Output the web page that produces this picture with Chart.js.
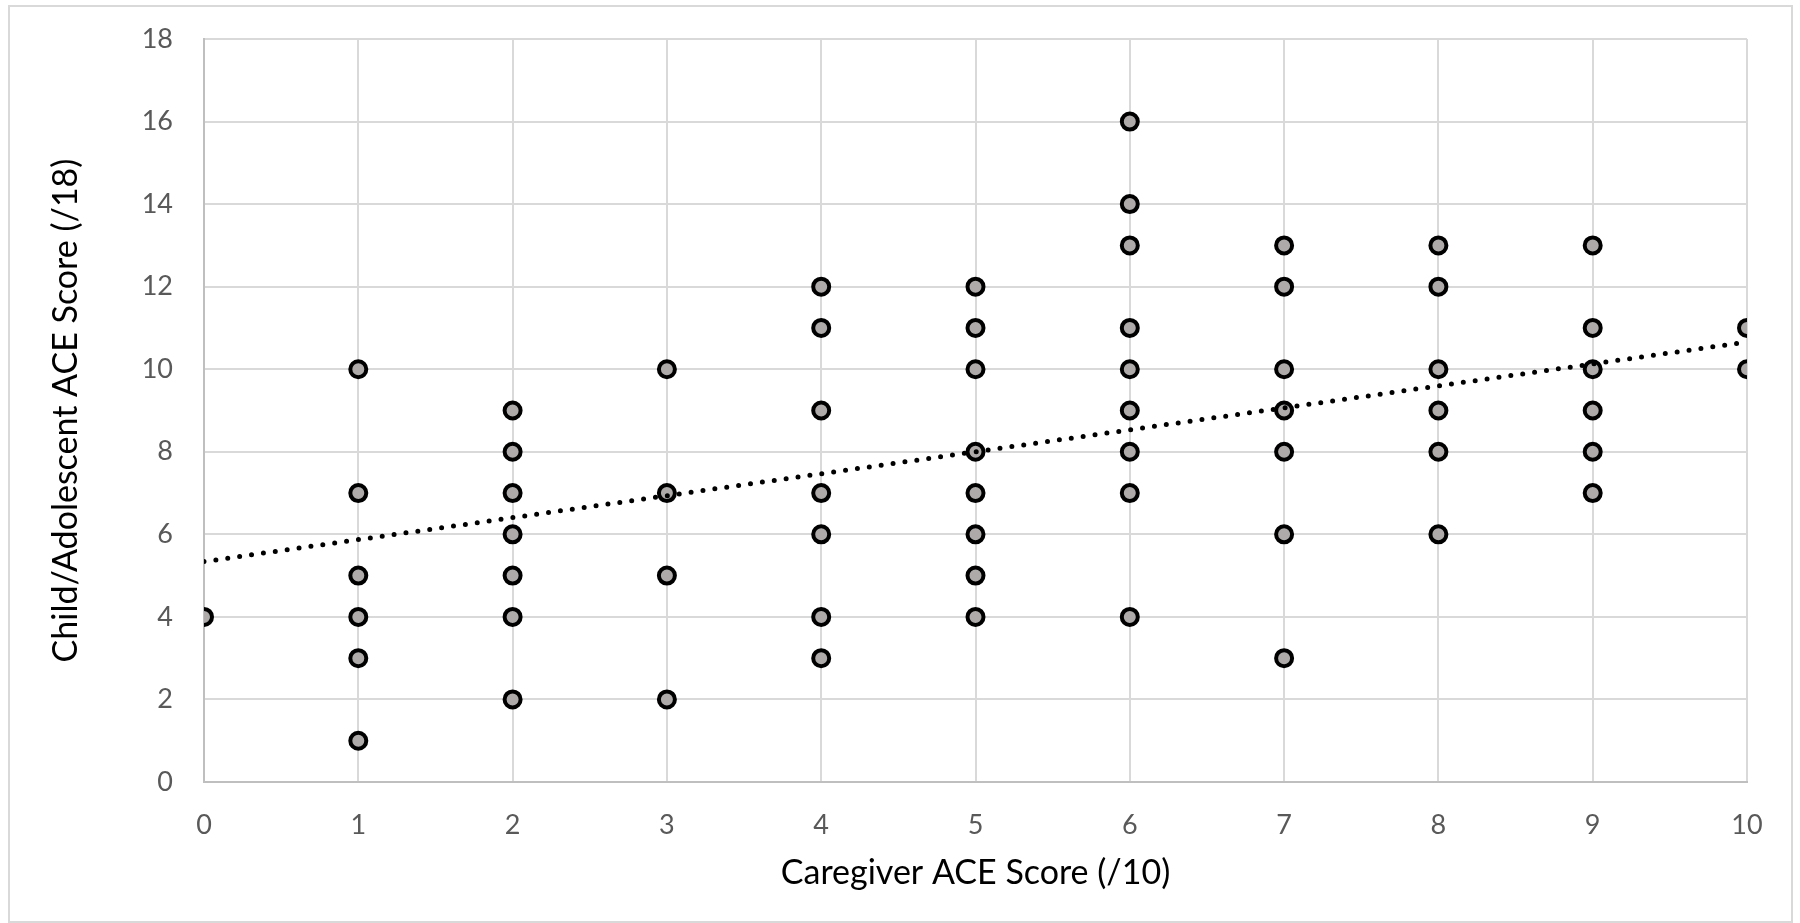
<!DOCTYPE html>
<html>
<head>
<meta charset="utf-8">
<script src="https://cdn.jsdelivr.net/npm/chart.js@4.4.1/dist/chart.umd.min.js"></script>
<style>
  html, body { margin: 0; padding: 0; background: #fff; }
  #wrap { position: relative; width: 1800px; height: 923px; }
</style>
</head>
<body>
<div id="wrap"><canvas id="chart"></canvas></div>
<script>
// Caregiver ACE score (x) and child/adolescent ACE score (y), one entry per point
const caregiverScores = [
    0,
    1, 1, 1, 1, 1, 1,
    2, 2, 2, 2, 2, 2, 2,
    3, 3, 3, 3,
    4, 4, 4, 4, 4, 4, 4,
    5, 5, 5, 5, 5, 5, 5, 5,
    6, 6, 6, 6, 6, 6, 6, 6, 6,
    7, 7, 7, 7, 7, 7, 7,
    8, 8, 8, 8, 8, 8,
    9, 9, 9, 9, 9, 9,
    10, 10
];
const childScores = [
    4,
    10, 7, 5, 4, 3, 1,
    9, 8, 7, 6, 5, 4, 2,
    10, 7, 5, 2,
    12, 11, 9, 7, 6, 4, 3,
    12, 11, 10, 8, 7, 6, 5, 4,
    16, 14, 13, 11, 10, 9, 8, 7, 4,
    13, 12, 10, 9, 8, 6, 3,
    13, 12, 10, 9, 8, 6,
    13, 11, 10, 9, 8, 7,
    11, 10
];

// linear trendline ends
const trendX = [0, 10];
const trendY = [5.34, 10.66];

const xTitle = 'Caregiver ACE Score (/10)';
const yTitle = 'Child/Adolescent ACE Score (/18)';

const FONT = 'Lato';

const points = caregiverScores.map((x, i) => ({ x: x, y: childScores[i] }));
const trend = trendX.map((x, i) => ({ x: x, y: trendY[i] }));

// white background and the light frame round the whole chart
const framePlugin = {
    id: 'frame',
    beforeDraw(chart) {
        const ctx = chart.ctx;
        ctx.save();
        ctx.fillStyle = '#fff';
        ctx.fillRect(0, 0, chart.width, chart.height);
        ctx.strokeStyle = '#d9d9d9';
        ctx.lineWidth = 2;
        ctx.strokeRect(9, 6, 1783, 916);
        ctx.restore();
    }
};

new Chart(document.getElementById('chart'), {
    type: 'scatter',
    data: {
        datasets: [
            {
                type: 'line',
                label: 'Linear trend',
                data: trend,
                borderColor: '#000',
                borderWidth: 5,
                borderDash: [0, 12],
                borderCapStyle: 'round',
                pointRadius: 0,
                fill: false
            },
            {
                label: 'Scores',
                data: points,
                backgroundColor: '#aeaaaa',
                borderColor: '#000',
                borderWidth: 4,
                pointRadius: 8,
                pointHoverRadius: 8
            }
        ]
    },
    plugins: [framePlugin],
    options: {
        responsive: true,
        maintainAspectRatio: false,
        animation: false,
        layout: { padding: { top: 39, right: 53, bottom: 0, left: 0 } },
        plugins: {
            legend: { display: false },
            tooltip: { enabled: false }
        },
        scales: {
            x: {
                type: 'linear',
                min: 0,
                max: 10,
                ticks: {
                    stepSize: 1,
                    padding: 27,
                    color: '#595959',
                    font: { family: FONT, size: 27 }
                },
                grid: { color: '#d9d9d9', lineWidth: 2, drawTicks: false },
                border: { color: '#bfbfbf', width: 2 },
                title: {
                    display: true,
                    text: xTitle,
                    color: '#000',
                    font: { family: FONT, size: 34 },
                    padding: { top: 0, bottom: 30 }
                },
                afterFit(scale) { scale.height = 141; }
            },
            y: {
                type: 'linear',
                min: 0,
                max: 18,
                ticks: {
                    stepSize: 2,
                    padding: 31,
                    color: '#595959',
                    font: { family: FONT, size: 27 }
                },
                grid: { color: '#d9d9d9', lineWidth: 2, drawTicks: false },
                border: { color: '#bfbfbf', width: 2 },
                title: {
                    display: true,
                    text: yTitle,
                    color: '#000',
                    font: { family: FONT, size: 34 },
                    padding: { top: 46, bottom: 0 }
                },
                afterFit(scale) {
                    scale.width = 204;
                    // tick padding would otherwise push the plot top down
                    scale.paddingTop = 16;
                    scale.paddingBottom = 16;
                }
            }
        }
    }
});
</script>
</body>
</html>
